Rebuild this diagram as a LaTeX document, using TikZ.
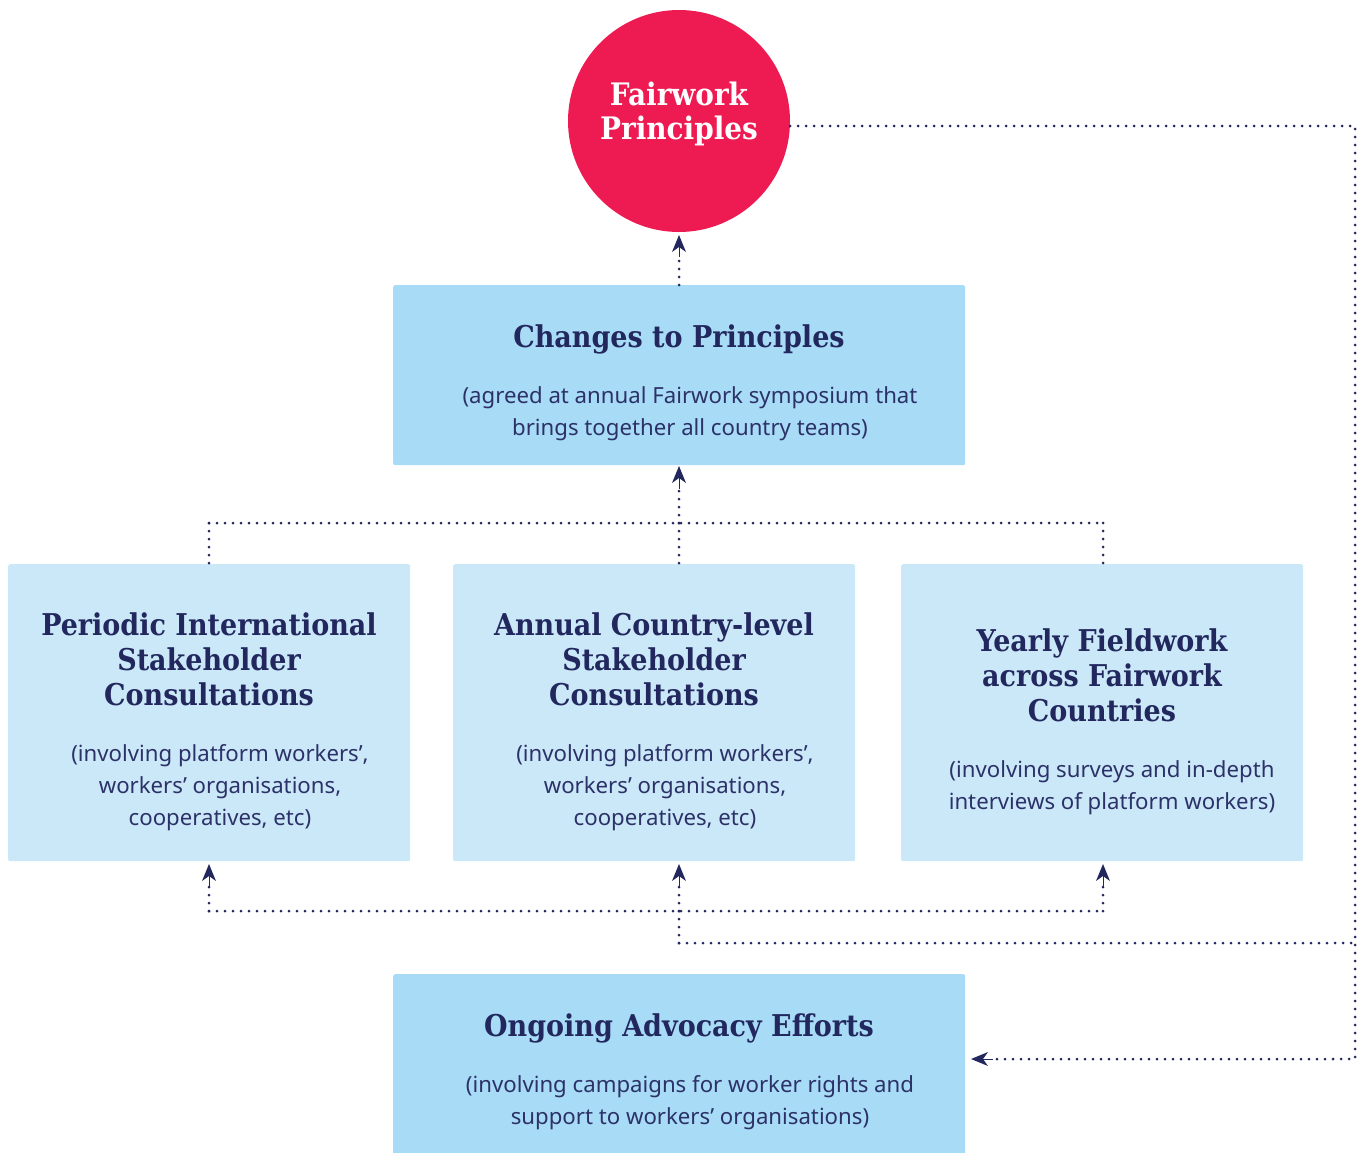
\documentclass[tikz,border=0pt]{standalone}
\usepackage{fontspec}
\setmainfont{Noto Sans}
\newfontfamily\headfont{DejaVu Serif Condensed}[BoldFont={DejaVu Serif Condensed Bold}]
\usetikzlibrary{arrows.meta,calc}
\definecolor{fwred}{HTML}{EE1B52}
\definecolor{boxdark}{HTML}{A8DBF6}
\definecolor{boxlight}{HTML}{CBE8F9}
\definecolor{navy}{HTML}{22285E}
\definecolor{bodytxt}{HTML}{2C3268}
\tikzset{
  box/.style={rounded corners=2pt, inner sep=0pt, anchor=north west},
  darkbox/.style={box, fill=boxdark},
  lightbox/.style={box, fill=boxlight},
  head/.style={font=\headfont\bfseries\fontsize{30}{35}\selectfont, text=navy, align=center},
  sub/.style={font=\fontsize{22.2}{32}\selectfont, text=bodytxt, align=center},
  dots/.style={draw=navy, line width=3pt, line cap=round, dash pattern=on 0pt off 8pt},
  tiphead/.style={draw=navy, line width=0pt, -{Stealth[length=17pt,width=14pt,inset=5pt,fill=navy]}},
}
\begin{document}
\begin{tikzpicture}[x=1pt,y=-1pt]
\useasboundingbox (0,0) rectangle (1363,1152);
% boxes
\node[darkbox, minimum width=572pt, minimum height=180pt] (chg) at (393,285) {};
\node[lightbox, minimum width=402pt, minimum height=297pt] (per) at (8,564) {};
\node[lightbox, minimum width=402pt, minimum height=297pt] (ann) at (453,564) {};
\node[lightbox, minimum width=402pt, minimum height=297pt] (yea) at (901,564) {};
\node[darkbox, minimum width=572pt, minimum height=190pt] (ong) at (393,974) {};
\node[circle, fill=fwred, minimum size=222pt, inner sep=0pt] (fp) at (679,121) {};
% texts
\node[head, text=white, font=\headfont\bfseries\fontsize{31}{34}\selectfont] (fpt) at (679,114) {Fairwork\\Principles};
\node[head] (chgh) at (679,339) {Changes to Principles};
\node[sub] (chgs) at (690,414) {(agreed at annual Fairwork symposium that\\brings together all country teams)};
\node[head] (perh) at (209,659) {Periodic International\\Stakeholder\\Consultations};
\node[sub] (pers) at (220,788) {(involving platform workers’,\\workers’ organisations,\\cooperatives, etc)};
\node[head] (annh) at (654,659) {Annual Country-level\\Stakeholder\\Consultations};
\node[sub] (anns) at (665,788) {(involving platform workers’,\\workers’ organisations,\\cooperatives, etc)};
\node[head] (yeah) at (1102,675) {Yearly Fieldwork\\across Fairwork\\Countries};
\node[sub] (yeas) at (1112,788) {(involving surveys and in-depth\\interviews of platform workers)};
\node[head] (ongh) at (679,1028) {Ongoing Advocacy Efforts};
\node[sub] (ongs) at (690,1103) {(involving campaigns for worker rights and\\support to workers’ organisations)};
% coordinates
\coordinate (tl) at (209,523);
\coordinate (tm) at (679,523);
\coordinate (tr) at (1103,523);
\coordinate (bl) at (209,911);
\coordinate (bm) at (679,911);
\coordinate (br) at (1103,911);
\coordinate (bm2) at (679,943);
\coordinate (rc) at (1355,943);
\coordinate (rt) at (1355,126);
\coordinate (rb) at (1355,1059);
\coordinate (fpr) at (790,126);
\coordinate (ongr) at (971,1059);
% connectors
\draw[dots] (679,285) -- (679,254);
\path[tiphead] (679,256) -- (679,235);
\draw[dots] (tl) -- (209,564);
\draw[dots] (tr) -- (1103,564);
\draw[dots] (tl) -- (tr);
\draw[dots] (tm) -- (679,564);
\draw[dots] (tm) -- (679,484);
\path[tiphead] (679,488) -- (679,466);
\draw[dots] (fpr) -- (rt) -- (rb) -- (990,1059);
\path[tiphead] (992,1059) -- (ongr);
\draw[dots] (bl) -- (br);
\draw[dots] (bm2) -- (rc);
\draw[dots] (bm2) -- (bm);
\foreach \p in {bl, bm, br}{
  \draw[dots] (\p) -- ++(0,-27);
  \path[tiphead] ($(\p)+(0,-25)$) -- ++(0,-22);
}
\end{tikzpicture}
\end{document}
